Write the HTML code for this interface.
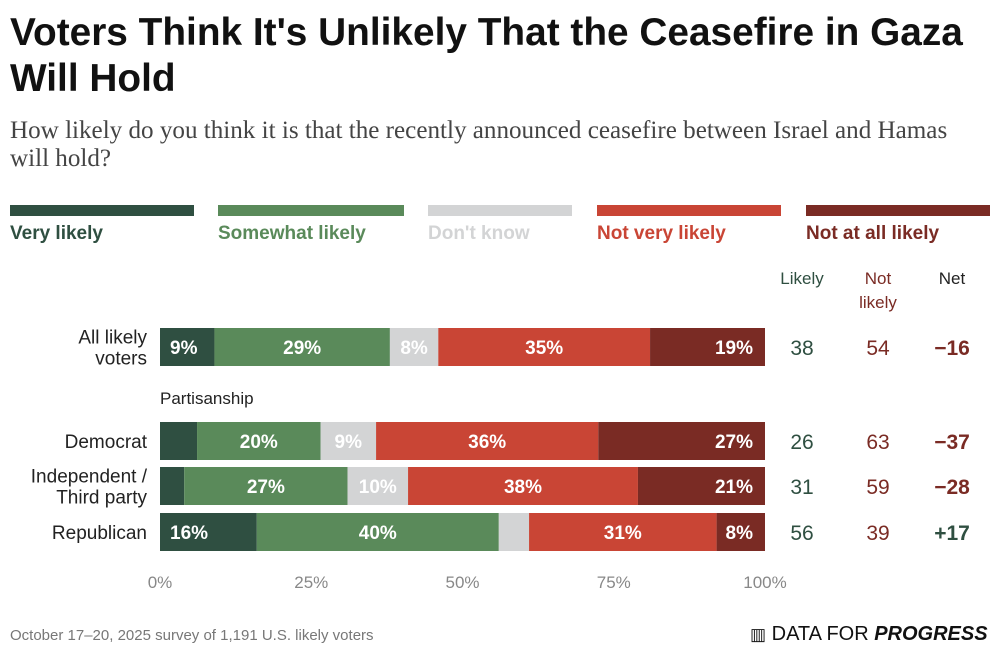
<!DOCTYPE html>
<html><head><meta charset="utf-8"><style>
body{margin:0;width:1000px;height:657px;background:#fff;font-family:"Liberation Sans",sans-serif;position:relative;overflow:hidden}
.a{position:absolute;white-space:nowrap}
</style></head><body>
<div class="a" style="left:10px;top:10px;font-size:38.8px;font-weight:bold;line-height:46px;color:#111">Voters Think It's Unlikely That the Ceasefire in Gaza<br>Will Hold</div>
<div class="a" style="left:10px;top:117px;font-family:'Liberation Serif',serif;font-size:25.1px;line-height:28px;color:#444">How likely do you think it is that the recently announced ceasefire between Israel and Hamas<br>will hold?</div>
<svg id="c" width="1000" height="657" style="position:absolute;left:0;top:0"></svg>
<div class="a" style="left:10px;top:627px;font-size:15px;color:#777">October 17–20, 2025 survey of 1,191 U.S. likely voters</div>
<div class="a" style="left:750px;top:623px;font-size:20px;color:#111"><span style="font-size:17px">▥</span> DATA FOR <b><i>PROGRESS</i></b></div>
<script>
const categories=["Very likely","Somewhat likely","Don't know","Not very likely","Not at all likely"];
const colors=["#2f4f41","#5a8a5a","#d3d4d5","#c94535","#7a2b24"];
const labelColors=["#2f4f41","#5a8a5a","#d3d4d5","#c94535","#7a2b24"];
const rows=["All likely voters","Democrat","Independent / Third party","Republican"];
const rowLines=[["All likely","voters"],["Democrat"],["Independent /","Third party"],["Republican"]];
const veryLikely=[9,6,4,16];
const somewhat=[29,20,27,40];
const dontKnow=[8,9,10,5];
const notVery=[35,36,38,31];
const notAtAll=[19,27,21,8];
const showLabel=[[1,1,1,1,1],[0,1,1,1,1],[0,1,1,1,1],[1,1,0,1,1]];
const likely=[38,26,31,56];
const notLikely=[54,63,59,39];
const net=["−16","−37","−28","+17"];
const ticks=[0,25,50,75,100];
const rowY=[328,422,467,513];
const barH=38;
const x0=160,x1=765;
const xs=v=>x0+(x1-x0)*v/100;
const svg=document.getElementById('c');
const NS="http://www.w3.org/2000/svg";
function mk(t,a){const e=document.createElementNS(NS,t);for(const k in a)e.setAttribute(k,a[k]);svg.appendChild(e);return e;}
const legX=[10,218,428,597,806],legW=[184,186,144,184,184];
categories.forEach((c,i)=>{
 const r=mk('rect',{x:legX[i],y:205,width:legW[i],height:11,fill:colors[i]});
 
 
 const t=mk('text',{x:legX[i],y:239,'font-size':19,'font-weight':'bold',fill:labelColors[i]});
 t.textContent=c;
 
 
});
[["Likely"],["Not","likely"],["Net"]].forEach((h,i)=>{
 const hx=[802,878,952][i];const col=["#2f4f41","#7a2b24","#222"][i];
 h.forEach((l,j)=>{const t=mk('text',{x:hx,y:284+j*24,'font-size':17,'text-anchor':'middle',fill:col});t.textContent=l;
 
 });
});
const series=[veryLikely,somewhat,dontKnow,notVery,notAtAll];
rows.forEach((r,i)=>{
 const y=rowY[i];
 const tot=series.reduce((s,a)=>s+a[i],0);
 let acc=0;
 series.forEach((a,k)=>{
  const v=a[i]*100/tot;
  const rx=xs(acc),rw=xs(acc+v)-xs(acc);
  const rc=mk('rect',{x:rx,y:y,width:rw,height:barH,fill:colors[k]});
  
  
  if(showLabel[i][k]){
   const last=k==4,first=k==0;
   const tx=first?rx+10:last?rx+rw-12:rx+rw/2;
   const t=mk('text',{x:tx,y:y+barH/2+7,'font-size':19,'font-weight':'bold',fill:'#fff','text-anchor':first?'start':last?'end':'middle'});
   t.textContent=a[i]+'%';
   
   
  }
  acc+=v;
 });
 const lines=rowLines[i];
 lines.forEach((l,j)=>{
  const t=mk('text',{x:147,y:y+barH/2+7+(j-(lines.length-1)/2)*21,'font-size':19,'text-anchor':'end',fill:'#222'});
  t.textContent=l;
  
  
 });
 const vals=[likely[i],notLikely[i],net[i]];
 vals.forEach((v,j)=>{
  const netCol=String(v).startsWith('+')?'#2f4f41':'#7a2b24';
  const t=mk('text',{x:[802,878,952][j],y:y+barH/2+8,'font-size':21,'text-anchor':'middle',fill:j==0?'#2f4f41':j==1?'#7a2b24':netCol,'font-weight':j==2?'bold':'normal'});
  t.textContent=v;
  
  
 });
});
const p=mk('text',{x:160,y:404,'font-size':17,fill:'#222'});p.textContent='Partisanship';


ticks.forEach(v=>{
 const t=mk('text',{x:xs(v),y:588,'font-size':17,'text-anchor':'middle',fill:'#888'});
 t.textContent=v+'%';
 
 
});
</script>
</body></html>
